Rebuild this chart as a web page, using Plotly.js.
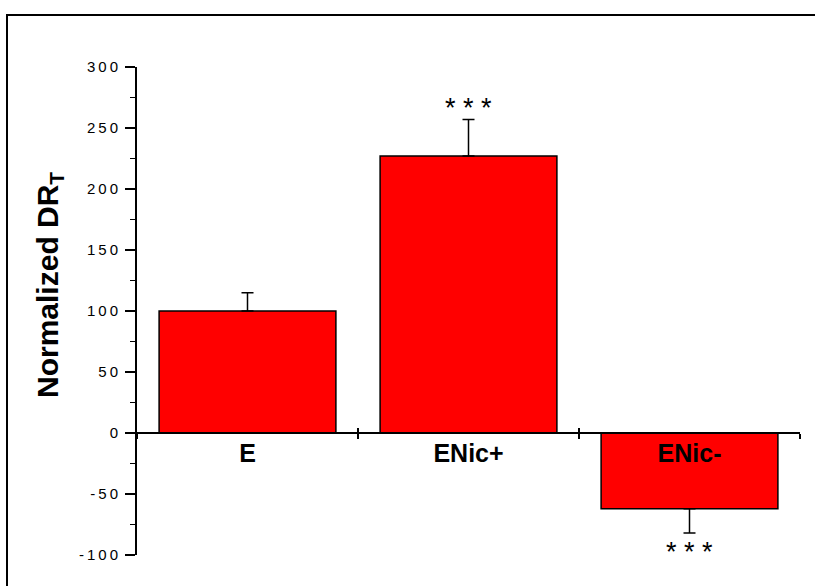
<!DOCTYPE html>
<html>
<head>
<meta charset="utf-8">
<script src="https://cdn.plot.ly/plotly-3.0.1.min.js"></script>
<style>
  html, body { margin: 0; padding: 0; background: #fff; }
  #chart { width: 815px; height: 586px; }
  /* widely spaced numerals on the value axis */
  .ytick text { letter-spacing: 3px; }
</style>
</head>
<body>
<div id="chart"></div>
<script>
// Groups and their normalized DR_T means
const groups = ['E', 'ENic+', 'ENic-'];
const means = [100, 227, -62];
// one-sided error bars (SEM), drawn away from zero
const errUp = [15, 30, 0];
const errDown = [0, 0, 20];
// significance markers per group
const sigMarks = ['', '* * *', '* * *'];

const yTickVals = [-100, -50, 0, 50, 100, 150, 200, 250, 300];
const yTickText = ['-100', '-50', '0', '50', '100', '150', '200', '250', '300'];
const yTitle = 'Normalized DR<sub>T</sub>';

const yMin = -100, yMax = 300;
const zeroPos = (0 - yMin) / (yMax - yMin);
const FONT = 'Arial, "Liberation Sans", sans-serif';

const bars = {
  type: 'bar',
  x: groups,
  y: means,
  width: 0.8,
  marker: { color: '#ff0000', line: { color: '#000', width: 1.5 } },
  error_y: {
    type: 'data', symmetric: false,
    array: errUp, arrayminus: errDown,
    color: '#000', thickness: 1.5, width: 6
  },
  hoverinfo: 'x+y',
  showlegend: false
};

// carrier trace for the second (inward tick) category axis
const tickCarrier = {
  type: 'scatter', mode: 'markers',
  x: groups, y: groups.map(() => null),
  xaxis: 'x2', yaxis: 'y',
  hoverinfo: 'skip', showlegend: false
};

const annotations = groups.map((g, i) => {
  if (!sigMarks[i]) return null;
  const up = means[i] >= 0;
  return {
    x: g, y: up ? means[i] + errUp[i] : means[i] - errDown[i],
    xref: 'x', yref: 'y',
    text: sigMarks[i], showarrow: false,
    yanchor: 'middle', yshift: up ? 11 : -19,
    font: { family: FONT, size: 27, color: '#000' }
  };
}).filter(Boolean);

// value-axis title, set as rotated text to the left of the tick labels
annotations.push({
  xref: 'paper', yref: 'paper',
  x: (49 - 137) / 663, y: (555 - 285) / 488,
  xanchor: 'center', yanchor: 'middle',
  textangle: -90, showarrow: false,
  text: yTitle,
  font: { family: FONT, size: 30, color: '#000', weight: 'bold' }
});

const layout = {
  width: 815, height: 586,
  margin: { l: 137, r: 15, t: 67, b: 31, pad: 0 },
  paper_bgcolor: '#fff', plot_bgcolor: '#fff',
  showlegend: false,
  bargap: 0.2,
  xaxis: {
    type: 'category',
    range: [-0.5, 2.5],
    anchor: 'free', position: zeroPos,
    showline: true, linecolor: '#000', linewidth: 2,
    ticks: 'outside', tickson: 'boundaries',
    ticklen: 5, tickwidth: 1.5, tickcolor: '#000',
    tickfont: { family: FONT, size: 25, color: '#000', weight: 'bold' },
    ticklabelstandoff: -2,
    showgrid: false, zeroline: false, fixedrange: true
  },
  xaxis2: {
    type: 'category', overlaying: 'x', matches: 'x',
    anchor: 'free', position: zeroPos,
    showline: false, showticklabels: false,
    ticks: 'inside', tickson: 'boundaries',
    ticklen: 5, tickwidth: 1.5, tickcolor: '#000',
    showgrid: false, zeroline: false
  },
  yaxis: {
    range: [yMin, yMax],
    tickmode: 'array', tickvals: yTickVals, ticktext: yTickText,
    ticks: 'outside', ticklen: 10, tickwidth: 1.5, tickcolor: '#000',
    minor: { dtick: 25, tick0: 0, ticks: 'outside', ticklen: 5, tickwidth: 1.5, tickcolor: '#000', showgrid: false },
    showline: true, linecolor: '#000', linewidth: 2,
    tickfont: { family: FONT, size: 15, color: '#000' },
    ticklabelstandoff: 1,
    showgrid: false, zeroline: false, fixedrange: true
  },
  annotations: annotations,
  shapes: [{
    // outer frame around the figure
    type: 'rect', xref: 'paper', yref: 'paper',
    x0: (7 - 137) / 663, x1: 1.5,
    y0: -0.5, y1: (555 - 15) / 488,
    line: { color: '#000', width: 2 },
    fillcolor: 'rgba(0,0,0,0)', layer: 'below'
  }]
};

Plotly.newPlot('chart', [bars, tickCarrier], layout, { displayModeBar: false, staticPlot: true });
</script>
</body>
</html>
